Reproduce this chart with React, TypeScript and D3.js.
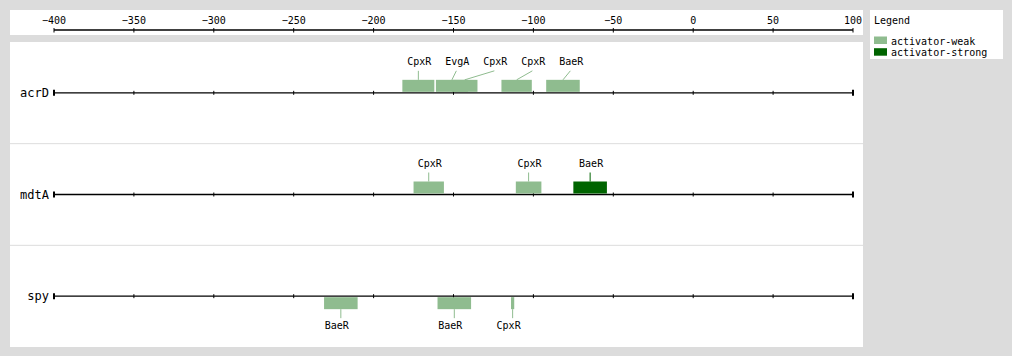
import React from "react";
import * as d3 from "d3";

const genes = ["acrD", "mdtA", "spy"];
const geneStrand = ["+", "+", "-"];

const siteGene = ["acrD", "acrD", "acrD", "acrD", "acrD", "mdtA", "mdtA", "mdtA", "spy", "spy", "spy"];
const siteTF = ["CpxR", "EvgA", "CpxR", "CpxR", "BaeR", "CpxR", "CpxR", "BaeR", "BaeR", "BaeR", "CpxR"];
const siteStart = [-182, -161, -151, -120, -92, -175, -111, -75, -231, -160, -114];
const siteEnd = [-162, -141, -135, -101, -71, -156, -95, -54, -210, -139, -112];
const siteType = [
  "activator-weak", "activator-weak", "activator-weak", "activator-weak", "activator-weak",
  "activator-weak", "activator-weak", "activator-strong",
  "activator-weak", "activator-weak", "activator-weak",
];

const axisTicks = [-400, -350, -300, -250, -200, -150, -100, -50, 0, 50, 100];
const legendTypes = ["activator-weak", "activator-strong"];
const typeColors = ["#8fbc8f", "#006400"];

const FONT = "'DejaVu Sans Mono', 'Liberation Mono', monospace";

export default function App() {
  const W = 1012, H = 356;
  const x = d3.scaleLinear().domain([-400, 100]).range([54, 853]);
  const color = d3.scaleOrdinal<string, string>().domain(legendTypes).range(typeColors);
  const panelTop = 42, panelBottom = 347;
  const rowH = (panelBottom - panelTop) / genes.length;
  const rowY = (i: number) => panelTop + rowH * i + rowH / 2;

  return (
    <svg width={W} height={H} style={{ position: "absolute", left: 0, top: 0 }}>
      <rect x={0} y={0} width={W} height={H} fill="#dcdcdc" />
      {/* top axis panel */}
      <rect x={10} y={10} width={853} height={25} fill="#fff" />
      <line x1={x(-400)} x2={x(100)} y1={30} y2={30} stroke="#000" strokeWidth={1.3} />
      {axisTicks.map((t) => (
        <g key={t}>
          <line x1={x(t)} x2={x(t)} y1={28} y2={32.5} stroke="#000" strokeWidth={1} />
          <text x={x(t)} y={24} textAnchor="middle" fontSize={10} fontFamily={FONT} fill="#000">
            {t < 0 ? "\u2212" + Math.abs(t) : t}
          </text>
        </g>
      ))}
      {/* legend */}
      <rect x={870} y={10} width={133} height={49} fill="#fff" />
      <text x={874} y={24} fontSize={10} fontFamily={FONT} fill="#000">Legend</text>
      {legendTypes.map((t, i) => (
        <g key={t}>
          <rect x={874} y={36.5 + i * 11.7} width={13} height={7.5} fill={color(t)} />
          <text x={891} y={44.5 + i * 11.7} fontSize={10} fontFamily={FONT} fill="#000">{t}</text>
        </g>
      ))}
      {/* main panel */}
      <rect x={10} y={panelTop} width={853} height={panelBottom - panelTop} fill="#fff" />
      {genes.slice(1).map((g, i) => (
        <line key={g} x1={10} x2={863} y1={panelTop + rowH * (i + 1)} y2={panelTop + rowH * (i + 1)} stroke="#dddddd" strokeWidth={1} />
      ))}
      {genes.map((g, gi) => {
        const y = rowY(gi);
        const down = geneStrand[gi] === "-";
        const idx = siteGene.map((s, i) => (s === g ? i : -1)).filter((i) => i >= 0);
        const centers = idx.map((i) => ({ i, c: x((siteStart[i] + siteEnd[i]) / 2) }));
        centers.sort((a, b) => a.c - b.c);
        const labelX: Record<number, number> = {};
        let prev = -Infinity;
        for (const { i, c } of centers) {
          const lx = Math.max(c, prev + 38);
          labelX[i] = lx;
          prev = lx;
        }
        return (
          <g key={g}>
            <text x={49} y={y + 4} textAnchor="end" fontSize={12} fontFamily={FONT} fill="#000">{g}</text>
            <line x1={x(-400)} x2={x(100)} y1={y} y2={y} stroke="#000" strokeWidth={1.3} />
            {axisTicks.map((t) => {
              const end = t === -400 || t === 100;
              return (
                <line key={t} x1={x(t)} x2={x(t)} y1={y - (end ? 3 : 2)} y2={y + (end ? 3 : 2)} stroke="#000" strokeWidth={end ? 2 : 1} />
              );
            })}
            {idx.map((i) => {
              const x0 = x(siteStart[i]);
              const x1 = x(siteEnd[i]);
              const c = color(siteType[i]);
              const cx = (x0 + x1) / 2;
              const by = down ? y + 1 : y - 13;
              return (
                <g key={i}>
                  <rect x={x0} y={by} width={x1 - x0} height={12} fill={c} />
                  <line
                    x1={cx}
                    y1={down ? y + 13 : y - 13}
                    x2={labelX[i]}
                    y2={down ? y + 22 : y - 22}
                    stroke={c}
                    strokeWidth={1}
                  />
                  <text x={down ? labelX[i] - 4 : labelX[i] + 1} y={down ? y + 33 : y - 28} textAnchor="middle" fontSize={10} fontFamily={FONT} fill="#000">
                    {siteTF[i]}
                  </text>
                </g>
              );
            })}
          </g>
        );
      })}
    </svg>
  );
}
